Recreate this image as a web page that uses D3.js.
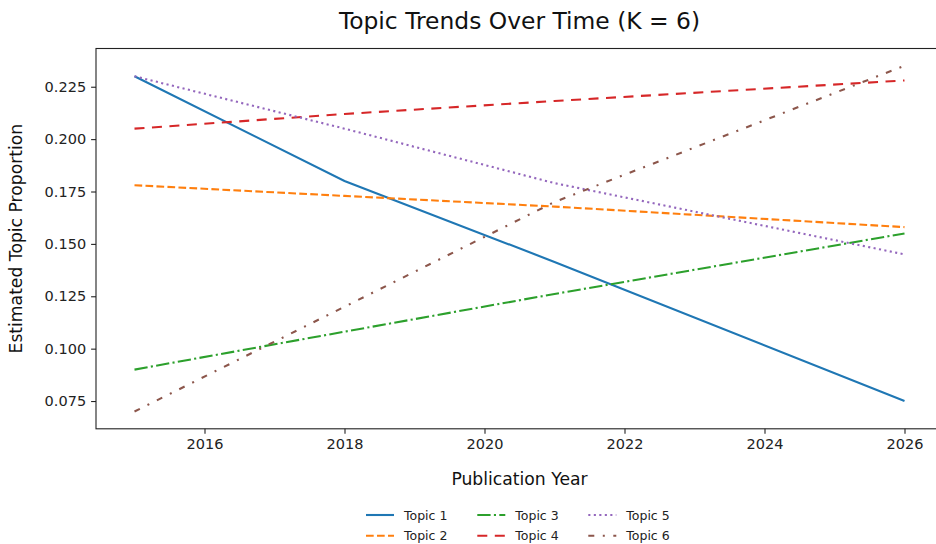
<!DOCTYPE html>
<html>
<head>
<meta charset="utf-8">
<script src="https://cdn.jsdelivr.net/npm/d3@7/dist/d3.min.js"></script>
<style>
  html, body { margin: 0; padding: 0; background: #fff; }
  svg { display: block; font-family: "DejaVu Sans", sans-serif; }
</style>
</head>
<body>
<svg id="chart" width="936" height="544"></svg>
<script>
// Breakpoint years at which each topic's estimated proportion is sampled
const years = [2015, 2018, 2021, 2026];

const topicNames = ["Topic 1", "Topic 2", "Topic 3", "Topic 4", "Topic 5", "Topic 6"];
const topic1 = [0.230, 0.180, 0.1414, 0.075];
const topic2 = [0.178, 0.1729, 0.1678, 0.158];
const topic3 = [0.090, 0.1081, 0.1261, 0.155];
const topic4 = [0.205, 0.2120, 0.2182, 0.228];
const topic5 = [0.230, 0.205, 0.179, 0.145];
const topic6 = [0.070, 0.120, 0.170, 0.235];

const xTicks = [2016, 2018, 2020, 2022, 2024, 2026];
const yTicks = [0.075, 0.100, 0.125, 0.150, 0.175, 0.200, 0.225];

const colors = ["#1f77b4", "#ff7f0e", "#2ca02c", "#d62728", "#9467bd", "#8c564b"];
const dashes = [null, "7.7,3.3", "13.3,3.3,2.1,3.3", "10,7.5", "2.1,3.4", "6,8.5,2,8.5"];

const series = [topic1, topic2, topic3, topic4, topic5, topic6].map((vals, i) => ({
  name: topicNames[i],
  color: colors[i],
  dash: dashes[i],
  points: years.map((yr, j) => ({ year: yr, value: vals[j] }))
}));

const svg = d3.select("#chart");
const plot = { left: 96, right: 943, top: 48.5, bottom: 428.8 };

// Domains padded by 5% on each side of the data range
const allVals = series.flatMap(s => s.points.map(p => p.value));
const xMin = d3.min(years), xMax = d3.max(years);
const yMin = d3.min(allVals), yMax = d3.max(allVals);
const xPad = (xMax - xMin) * 0.05, yPad = (yMax - yMin) * 0.05;

const x = d3.scaleLinear().domain([xMin - xPad, xMax + xPad]).range([plot.left, plot.right]);
const y = d3.scaleLinear().domain([yMin - yPad, yMax + yPad]).range([plot.bottom, plot.top]);

// Axes
const xAxis = svg.append("g")
  .attr("transform", `translate(0,${plot.bottom})`)
  .call(d3.axisBottom(x).tickValues(xTicks).tickFormat(d3.format("d")).tickSize(4.9).tickPadding(5.5));
const yAxis = svg.append("g")
  .attr("transform", `translate(${plot.left},0)`)
  .call(d3.axisLeft(y).tickValues(yTicks).tickFormat(d3.format(".3f")).tickSize(4.9).tickPadding(5));

[xAxis, yAxis].forEach(g => {
  g.select(".domain").remove();
  g.selectAll(".tick line").attr("stroke", "#222").attr("stroke-width", 1.1);
  g.selectAll(".tick text")
    .attr("fill", "#222")
    .style("font-family", "DejaVu Sans")
    .style("font-size", "14.5px");
});

// Frame around the plotting area
svg.append("rect")
  .attr("x", plot.left).attr("y", plot.top)
  .attr("width", plot.right - plot.left).attr("height", plot.bottom - plot.top)
  .attr("fill", "none").attr("stroke", "#222").attr("stroke-width", 1.1);

// Topic lines
const line = d3.line().x(d => x(d.year)).y(d => y(d.value));
svg.append("g").selectAll("path")
  .data(series)
  .join("path")
  .attr("d", d => line(d.points))
  .attr("fill", "none")
  .attr("stroke", d => d.color)
  .attr("stroke-width", 2.1)
  .attr("stroke-dasharray", d => d.dash);

// Titles
const cx = (plot.left + plot.right) / 2;
svg.append("text")
  .attr("x", cx).attr("y", 28.5)
  .attr("text-anchor", "middle")
  .attr("fill", "#111")
  .style("font-size", "23.4px")
  .text("Topic Trends Over Time (K = 6)");

svg.append("text")
  .attr("x", cx).attr("y", 485)
  .attr("text-anchor", "middle")
  .attr("fill", "#111")
  .style("font-size", "17.2px")
  .text("Publication Year");

svg.append("text")
  .attr("transform", `translate(21.5,${(plot.top + plot.bottom) / 2}) rotate(-90)`)
  .attr("text-anchor", "middle")
  .attr("fill", "#111")
  .style("font-size", "17.2px")
  .text("Estimated Topic Proportion");

// Legend: three columns, two rows, filled column by column
const legend = svg.append("g");
const colX = [366, 477.3, 588.3];
const rowY = [515, 535.7];
series.forEach((s, i) => {
  const col = Math.floor(i / 2), row = i % 2;
  const g = legend.append("g").attr("transform", `translate(${colX[col]},${rowY[row]})`);
  g.append("line")
    .attr("x1", 0).attr("x2", 28).attr("y1", 0).attr("y2", 0)
    .attr("stroke", s.color).attr("stroke-width", 2.1)
    .attr("stroke-dasharray", s.dash);
  g.append("text")
    .attr("x", 38).attr("y", 0).attr("dy", "0.36em")
    .attr("fill", "#222")
    .style("font-size", "12.5px")
    .text(s.name);
});
</script>
</body>
</html>
